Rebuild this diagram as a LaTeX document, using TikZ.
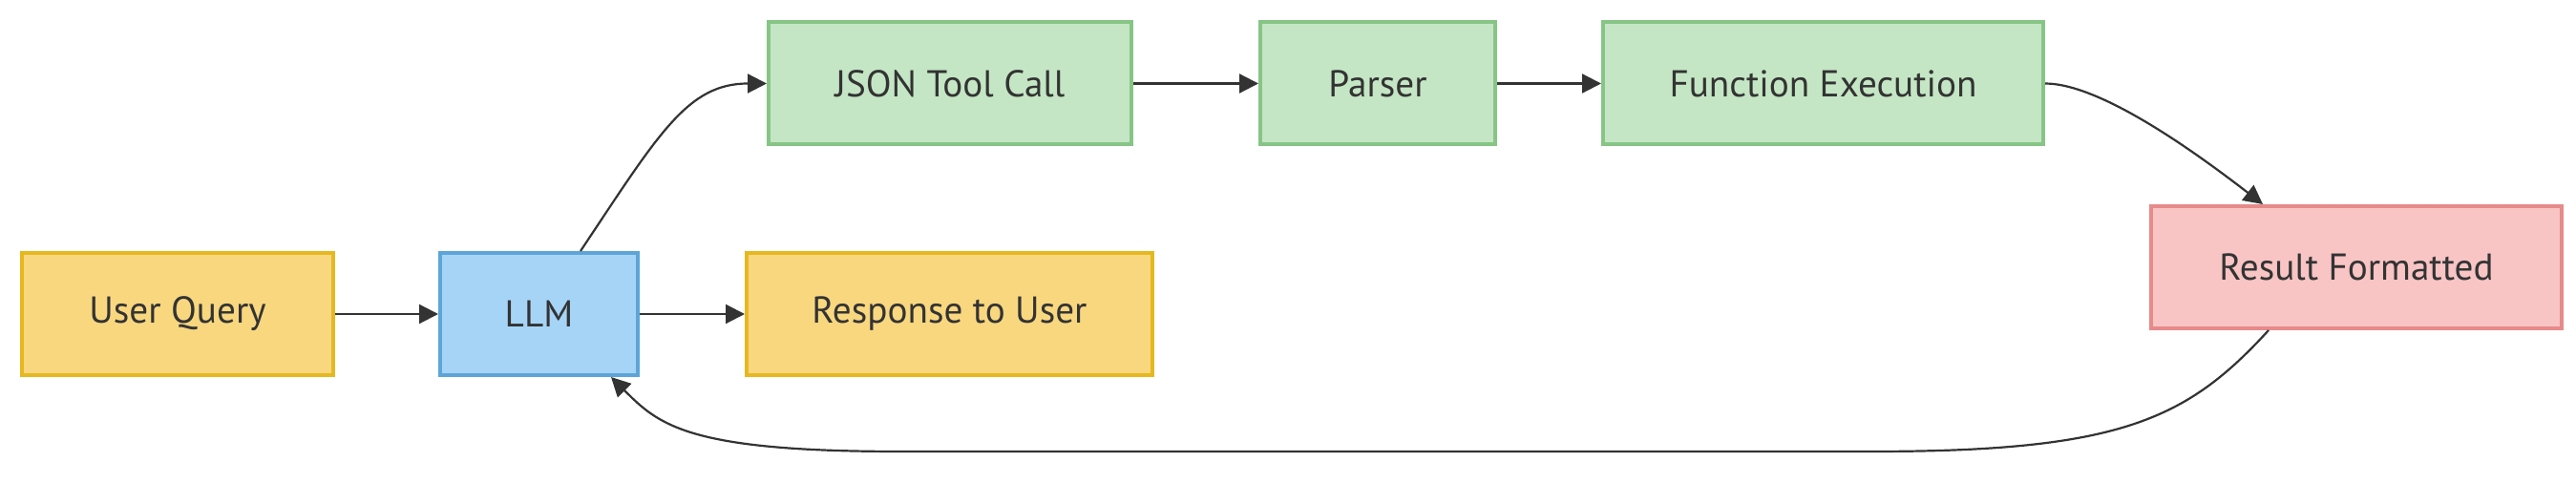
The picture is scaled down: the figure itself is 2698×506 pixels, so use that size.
\documentclass[tikz,border=0pt]{standalone}
\usepackage{fontspec}
\setmainfont{PT Sans}
\usetikzlibrary{arrows.meta}
\definecolor{txt}{HTML}{333333}
\definecolor{yfill}{HTML}{F8D77F}
\definecolor{ydraw}{HTML}{E6B820}
\definecolor{bfill}{HTML}{A6D4F7}
\definecolor{bdraw}{HTML}{5DA5D8}
\definecolor{gfill}{HTML}{C4E6C4}
\definecolor{gdraw}{HTML}{86C586}
\definecolor{rfill}{HTML}{F8C4C4}
\definecolor{rdraw}{HTML}{E68A8A}
\tikzset{
  box/.style={rectangle, inner sep=0pt, line width=2pt, minimum height=64pt,
    text=txt, font=\fontsize{19.6}{22}\selectfont},
  ybox/.style={box, fill=yfill, draw=ydraw},
  bbox/.style={box, fill=bfill, draw=bdraw},
  gbox/.style={box, fill=gfill, draw=gdraw},
  rbox/.style={box, fill=rfill, draw=rdraw},
  link/.style={draw=txt, line width=1.1pt, -{Triangle[length=10pt,width=10pt]}}
}
\begin{document}
\begin{tikzpicture}[x=0.5pt,y=-0.5pt]
\useasboundingbox[fill=white] (0,0) rectangle (2698,506);
\node[ybox, minimum width=163pt] (uq) at (186,329) {User Query};
\node[bbox, minimum width=103.5pt] (llm) at (564.5,329) {LLM};
\node[ybox, minimum width=212.5pt] (resp) at (994.5,329) {Response to User};
\node[gbox, minimum width=190pt] (json) at (995,87.5) {JSON Tool Call};
\node[gbox, minimum width=123pt] (parser) at (1443,87.5) {Parser};
\node[gbox, minimum width=230.5pt] (fe) at (1909.5,87.5) {Function Execution};
\node[rbox, minimum width=215pt] (rf) at (2468,280) {Result Formatted};
\coordinate (b1) at (1960,473);
\coordinate (b2) at (943,473);
\draw[link] (uq) -- (llm);
\draw[link] (llm) -- (resp);
\draw[link] (llm.north -| 608,0) .. controls (690,140) and (720,87.5) .. (json.west);
\draw[link] (json) -- (parser);
\draw[link] (parser) -- (fe);
\draw[link] (fe.east) .. controls (2200,87.5) and (2300,160) .. (rf.north -| 2370,0);
\draw[link] (rf.south -| 2376,0) .. controls (2290,440) and (2220,473) .. (b1)
  -- (b2) .. controls (720,473) and (690,445) .. (llm.south -| 640,0);
\end{tikzpicture}
\end{document}
